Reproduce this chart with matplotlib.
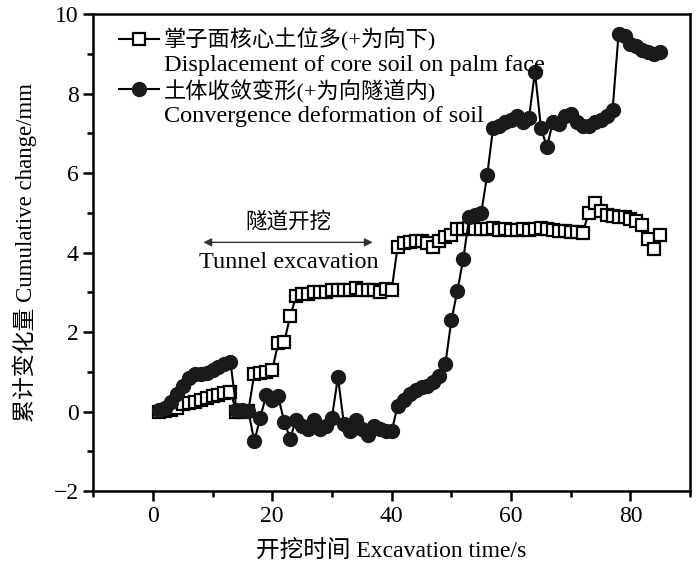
import numpy as np
import matplotlib
matplotlib.use("Agg")
import matplotlib.pyplot as plt
from matplotlib.lines import Line2D
from matplotlib.ticker import MultipleLocator

plt.rcParams['font.family'] = ['Liberation Serif', 'Noto Sans CJK SC']
plt.rcParams['axes.unicode_minus'] = True

# excavation time (s)
t = np.arange(1, 86)

# core soil displacement on palm face (+ downward), mm
core_disp = [0.0, 0.02, 0.05, 0.10, 0.18, 0.22, 0.25, 0.30, 0.33, 0.38,
             0.42, 0.47, 0.50, 0.00, 0.00, 0.02, 0.95, 0.98, 1.00, 1.05,
             1.72, 1.75, 2.40, 2.90, 2.95, 2.97, 3.00, 3.00, 3.02, 3.05,
             3.05, 3.07, 3.05, 3.10, 3.05, 3.07, 3.05, 3.02, 3.08, 3.06,
             4.15, 4.25, 4.28, 4.30, 4.30, 4.25, 4.15, 4.30, 4.40, 4.45,
             4.60, 4.60, 4.62, 4.60, 4.60, 4.60, 4.62, 4.58, 4.60, 4.58,
             4.58, 4.60, 4.57, 4.60, 4.62, 4.60, 4.58, 4.55, 4.55, 4.53,
             4.52, 4.50, 5.00, 5.25, 5.05, 4.95, 4.92, 4.90, 4.90, 4.85,
             4.80, 4.70, 4.35, 4.10, 4.45]

# soil convergence deformation (+ into tunnel), mm
converg = [0.05, 0.10, 0.25, 0.45, 0.65, 0.85, 0.95, 0.95, 0.97, 1.05,
           1.12, 1.20, 1.25, 0.05, 0.03, 0.02, -0.75, -0.15, 0.42, 0.30,
           0.38, -0.25, -0.68, -0.20, -0.35, -0.45, -0.20, -0.45, -0.35, -0.15,
           0.87, -0.30, -0.50, -0.20, -0.45, -0.60, -0.35, -0.45, -0.50, -0.50,
           0.15, 0.30, 0.45, 0.55, 0.62, 0.65, 0.75, 0.90, 1.20, 2.30,
           3.03, 3.85, 4.90, 4.95, 5.00, 5.95, 7.15, 7.20, 7.30, 7.35,
           7.45, 7.30, 7.40, 8.55, 7.15, 6.65, 7.30, 7.25, 7.45, 7.50,
           7.30, 7.20, 7.20, 7.30, 7.35, 7.45, 7.60, 9.50, 9.45, 9.25,
           9.20, 9.10, 9.05, 9.00, 9.05]

fig = plt.figure(figsize=(7, 5.71), dpi=100)
ax = fig.add_axes([0.133, 0.14, 0.853, 0.835])

ax.plot(t, core_disp, color='black', lw=1.5, marker='s', markersize=8,
        markerfacecolor='white', markeredgecolor='black', markeredgewidth=1.6)
ax.plot(t, converg, color='black', lw=1.5, marker='o', markersize=10,
        markerfacecolor='#1a1a1a', markeredgecolor='#1a1a1a')

ax.set_xlim(-10, 90)
ax.set_ylim(-2, 10)
ax.xaxis.set_major_locator(MultipleLocator(20))
ax.xaxis.set_minor_locator(MultipleLocator(10))
ax.yaxis.set_major_locator(MultipleLocator(2))
ax.yaxis.set_minor_locator(MultipleLocator(1))
ax.tick_params(which='major', direction='out', length=7, width=1.8, labelsize=17)
ax.tick_params(which='minor', direction='out', length=4, width=1.8)
for s in ax.spines.values():
    s.set_linewidth(1.8)

ax.set_xlabel("开挖时间 Excavation time/s", fontsize=17, labelpad=10)
ax.set_ylabel("累计变化量 Cumulative change/mm", fontsize=16.5, labelpad=12)

# tunnel excavation annotation
ax.annotate("", xy=(8, 4.26), xytext=(37.3, 4.26),
            arrowprops=dict(arrowstyle='<|-|>', color='#333333', lw=1.0,
                            mutation_scale=12))
ax.text(22.7, 4.77, "隧道开挖", fontsize=15.5, ha='center', va='center')
ax.text(22.7, 3.76, "Tunnel excavation", fontsize=17.5, ha='center', va='center')

handles = [
    Line2D([], [], color='black', lw=1.5, marker='s', markersize=8,
           markerfacecolor='white', markeredgewidth=1.6),
    Line2D([], [], color='none'),
    Line2D([], [], color='black', lw=1.5, marker='o', markersize=10,
           markerfacecolor='#1a1a1a', markeredgecolor='#1a1a1a'),
    Line2D([], [], color='none'),
]
labels = ["掌子面核心土位多(+为向下)",
          "Displacement of core soil on palm face",
          "土体收敛变形(+为向隧道内)",
          "Convergence deformation of soil"]
leg = ax.legend(handles, labels, loc='upper left', bbox_to_anchor=(0.02, 1.0),
                frameon=False, fontsize=17, labelspacing=0.12, handlelength=1.7,
                handletextpad=0.2, borderaxespad=0.2)
for i, txt in enumerate(leg.get_texts()):
    txt.set_fontsize(16 if i % 2 == 0 else 17.5)

fig.savefig("out.png", dpi=100)
